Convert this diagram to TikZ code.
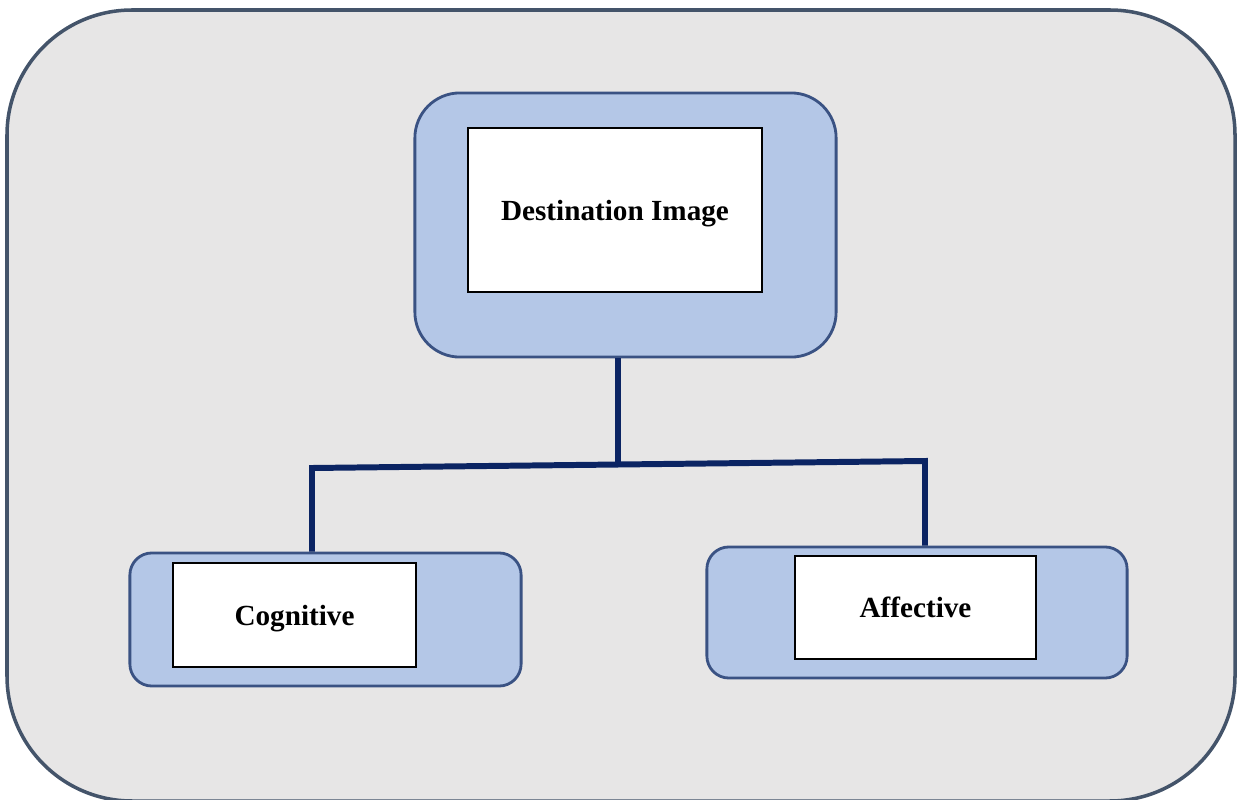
\documentclass[tikz,border=0pt]{standalone}
\usepackage{fontspec}
\setmainfont{Liberation Serif}
\definecolor{bggray}{HTML}{E7E6E6}
\definecolor{frameblue}{HTML}{44546A}
\definecolor{boxblue}{HTML}{B4C7E7}
\definecolor{boxedge}{HTML}{3A5283}
\definecolor{linknavy}{HTML}{0B2463}

\begin{document}
\begin{tikzpicture}[x=0.01cm, y=-0.01cm,
    outer/.style={draw=frameblue, fill=bggray, line width=1pt, rounded corners=1.25cm},
    holder/.style={draw=boxedge, fill=boxblue, line width=0.8pt, inner sep=0pt},
    label/.style={draw=black, fill=white, line width=0.6pt, inner sep=0pt,
                  text height=6.6pt, text depth=0.7pt,
                  font=\fontsize{8.3}{10}\selectfont\bfseries},
    link/.style={draw=linknavy, line width=1.7pt}]
    \useasboundingbox (0,0) rectangle (1239,800);
    \draw[outer] (7,10) rectangle (1235,801);

    % boxes
    \node[holder, rounded corners=0.45cm, minimum width=4.21cm, minimum height=2.64cm] (destbox) at (625.5,225) {};
    \node[label, minimum width=2.94cm, minimum height=1.64cm] (dest) at (615,210) {Destination Image};
    \node[holder, rounded corners=0.22cm, minimum width=3.91cm, minimum height=1.33cm] (cogbox) at (325.5,619.5) {};
    \node[label, minimum width=2.43cm, minimum height=1.04cm] (cog) at (294.5,615) {Cognitive};
    \node[holder, rounded corners=0.22cm, minimum width=4.20cm, minimum height=1.31cm] (affbox) at (917,612.5) {};
    \node[label, minimum width=2.41cm, minimum height=1.03cm] (aff) at (915.5,607.5) {Affective};

    % tree lines
    \coordinate (mid) at (618,463);
    \coordinate (left) at (312,468);
    \coordinate (right) at (925,461);
    \draw[link] (destbox.south -| mid) -- (mid);
    \draw[link] (left |- cogbox.north) -- (left) -- (right) -- (right |- affbox.north);
\end{tikzpicture}
\end{document}
